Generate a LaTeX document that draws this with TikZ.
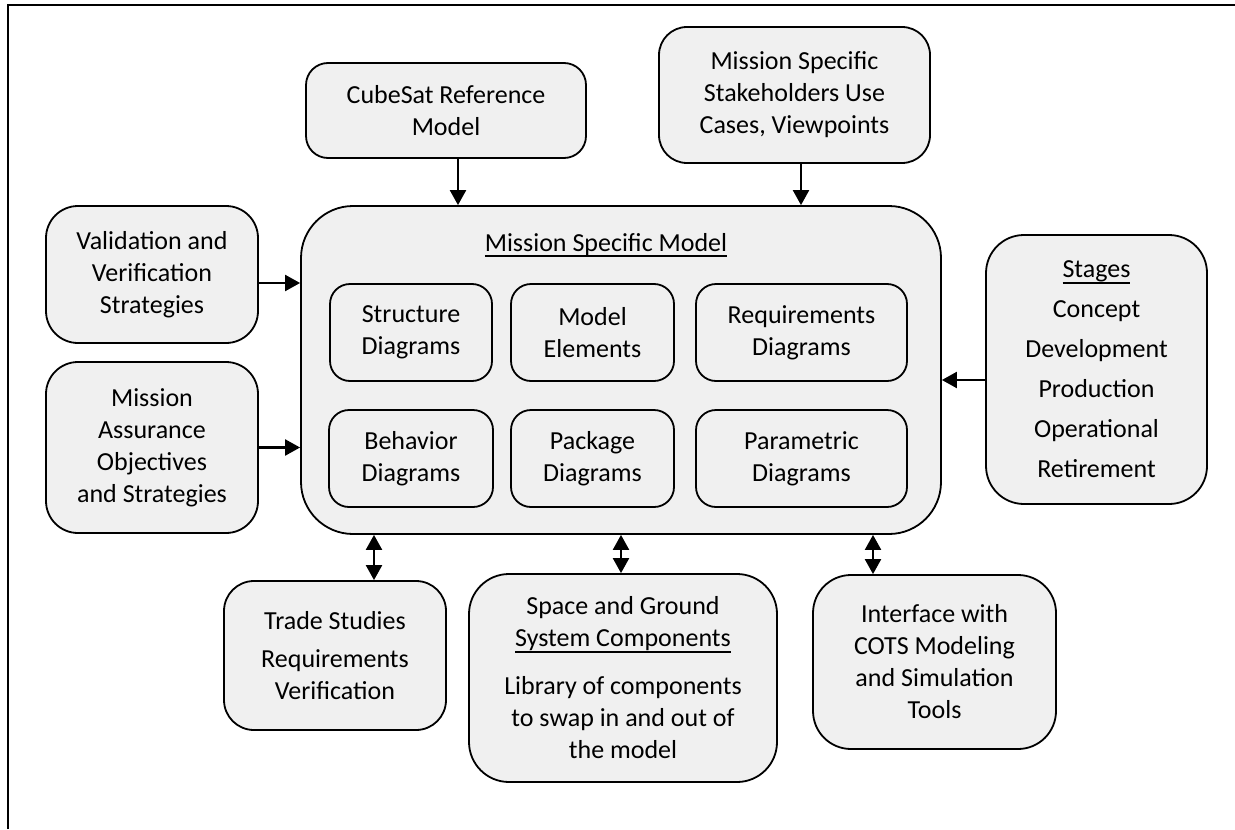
\documentclass[tikz,border=0pt]{standalone}
\usepackage{fontspec}
\setmainfont{Carlito}
\usetikzlibrary{arrows.meta}
\definecolor{boxfill}{RGB}{240,240,240}
\newcommand{\ulin}[1]{\setbox0\hbox{#1}\rlap{\rule[-2.9pt]{\wd0}{0.9pt}}\box0}
\tikzset{
  box/.style={draw, fill=boxfill, line width=0.9pt, rounded corners=#1, align=center, inner sep=0pt},
  box/.default=13pt,
  inner/.style={draw, line width=0.9pt, rounded corners=10pt, align=center, inner sep=0pt},
  size/.style 2 args={minimum width=#1*0.5pt, minimum height=#2*0.5pt},
  arr/.style={-{Triangle[length=7.5pt,width=8pt]}, line width=1.1pt},
  darr/.style={{Triangle[length=7.5pt,width=8pt]}-{Triangle[length=7.5pt,width=8pt]}, line width=1.1pt}
}
\begin{document}
\begin{tikzpicture}[x=0.5pt, y=-0.5pt, font=\fontsize{13}{16}\selectfont]
      \useasboundingbox (0,0) rectangle (1235,829);
      \draw[line width=1.2pt] (8,829) -- (8,5) -- (1235,5);
      \node[box=11pt, size={280}{95}] (cubesat) at (446,110.5) {CubeSat Reference\\Model};
      \node[box=14pt, size={271}{136}] (stake) at (794.5,95) {Mission Specific\\Stakeholders Use\\Cases, Viewpoints};
      \node[box=16pt, size={212}{137}] (valid) at (152,274.5) {Validation and\\Verification\\Strategies};
      \node[box=16pt, size={212}{171}] (assur) at (152,447.5) {Mission\\Assurance\\Objectives\\and Strategies};
      \node[box=26pt, size={640}{328}] (msm) at (621,370) {};
      \node (title) at (606,245) {\ulin{Mission Specific Model}};
      \node[inner, size={162}{97}] (struct) at (411,332.5) {Structure\\Diagrams};
      \node[inner, size={163}{97}] (elem) at (592.5,332.5) {Model\\Elements};
      \node[inner, size={211}{97}] (req) at (801.5,332.5) {Requirements\\Diagrams};
      \node[inner, size={164}{97}] (behav) at (411,458.5) {Behavior\\Diagrams};
      \node[inner, size={163}{97}] (pkg) at (592.5,458.5) {Package\\Diagrams};
      \node[inner, size={211}{97}] (param) at (801.5,458.5) {Parametric\\Diagrams};
      \node[box=19pt, size={221}{269}] (stages) at (1096.5,369.5)
            {\ulin{Stages}\\[4pt]Concept\\[4pt]Development\\[4pt]Production\\[4pt]Operational\\[4pt]Retirement};
      \node[box=15pt, size={222}{149}] (trade) at (335,655.5) {Trade Studies\\[3pt]Requirements\\Verification};
      \node[box=20pt, size={308}{208}] (comps) at (623,678)
            {Space and Ground\\\ulin{System Components}\\[8pt]Library of components\\to swap in and out of\\the model};
      \node[box=19pt, size={243}{174}] (cots) at (934.5,662) {Interface with\\COTS Modeling\\and Simulation\\Tools};
      \path[arr] (cubesat.south -| 458,0) edge (msm.north -| 458,0)
                 (stake.south -| 801,0) edge (msm.north -| 801,0)
                 (valid.east |- 0,283) edge (msm.west |- 0,283)
                 (assur.east) edge (msm.west |- assur.east)
                 (stages.west |- 0,380) edge (msm.east |- 0,380);
      \path[darr] (msm.south -| 374,0) edge (trade.north -| 374,0)
                  (msm.south -| 621,0) edge (comps.north -| 621,0)
                  (msm.south -| 873,0) edge (cots.north -| 873,0);
\end{tikzpicture}
\end{document}
